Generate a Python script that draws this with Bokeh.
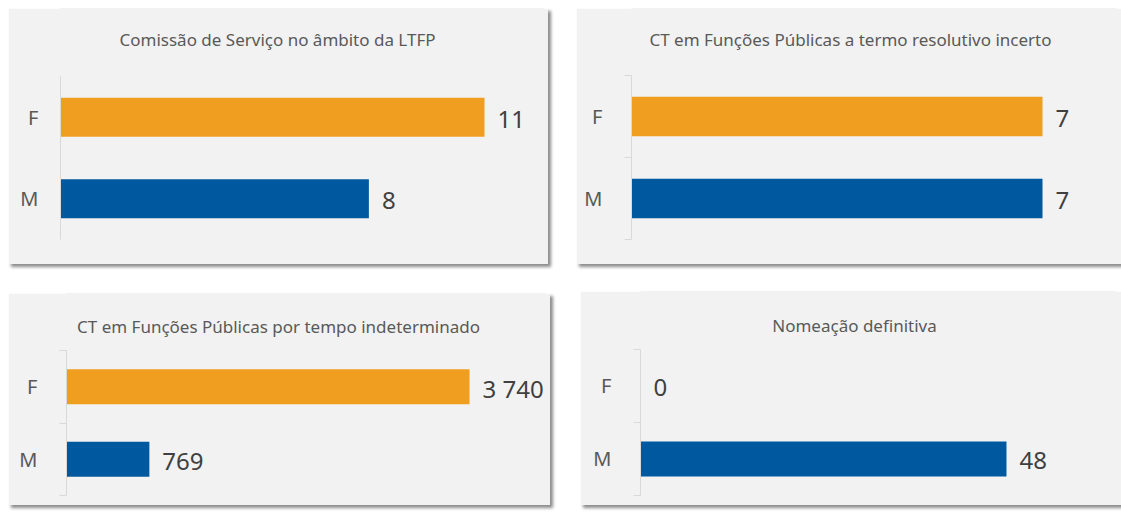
from bokeh.plotting import figure
from bokeh.models import Range1d, FixedTicker, ColumnDataSource
from bokeh.layouts import column, row
from bokeh.embed import file_html
from bokeh.resources import INLINE
from bokeh.core.properties import value

# ---- data ----
categories = ["F", "M"]
bar_colors = ["#F09E20", "#00589E"]

title_comissao = "Comissão de Serviço no âmbito da LTFP"
values_comissao = [11, 8]

title_incerto = "CT em Funções Públicas a termo resolutivo incerto"
values_incerto = [7, 7]

title_indeterminado = "CT em Funções Públicas por tempo indeterminado"
values_indeterminado = [3740, 769]

title_nomeacao = "Nomeação definitiva"
values_nomeacao = [0, 48]

FONT = "Noto Sans"
BG = "#F2F2F2"
AXIS = "#D9D9D9"
RB = 5  # right border


def fmt(v):
    return f"{v:,}".replace(",", " ")


def panel(title, vals, w, h, left, top, bottom, x_end, title_cx, title_base,
          bracket, margin):
    n = len(categories)
    ys = [n - i - 0.5 for i in range(n)]
    fw = w - left - RB
    fh_axis = h - top - bottom          # pixel height of the category area
    fh_total = h - bottom                # frame reaches the top of the panel
    y_end = n * fh_total / fh_axis
    src = ColumnDataSource(dict(
        y=ys, v=vals, color=bar_colors, label=[fmt(v) for v in vals]))
    p = figure(width=w, height=h, x_range=Range1d(0, x_end),
               y_range=Range1d(0, y_end), output_backend="svg",
               toolbar_location=None, x_axis_location=None,
               min_border_left=left, min_border_right=RB,
               min_border_top=0, min_border_bottom=bottom,
               background_fill_color=BG, border_fill_color=BG,
               outline_line_color=BG, outline_line_width=1, margin=margin,
               styles={"box-shadow": "3px 3px 3px rgba(0,0,0,0.45)"})
    p.grid.grid_line_color = None
    ax = p.yaxis[0]
    ax.bounds = (0, n)
    ax.ticker = FixedTicker(ticks=ys,
                            minor_ticks=[float(i) for i in range(n + 1)] if bracket else [])
    ax.major_label_overrides = {y: c for y, c in zip(ys, categories)}
    ax.major_tick_line_color = None
    ax.major_tick_out = 0
    ax.major_tick_in = 0
    ax.minor_tick_out = 7 if bracket else 0
    ax.minor_tick_in = 0
    ax.minor_tick_line_color = AXIS if bracket else None
    ax.axis_line_color = AXIS
    ax.major_label_standoff = 22
    ax.major_label_text_font = FONT
    ax.major_label_text_font_size = "20px"
    ax.major_label_text_color = "#595959"

    p.hbar(y="y", left=0, right="v", height=0.48, fill_color="color",
           line_color=None, source=src)
    p.text(x="v", y="y", text="label", source=src, x_offset=13, y_offset=2,
           text_baseline="middle", text_align="left",
           text_font=value(FONT), text_font_size="24px", text_color="#404040")

    # chart title, centred on the panel, in the upper part of the frame
    tx = x_end * (title_cx - left) / fw
    ty = n * (fh_total - title_base) / fh_axis
    p.text(x=[tx], y=[ty], text=[title], text_align="center",
           text_baseline="alphabetic", text_font=value(FONT),
           text_font_size="17px", text_color="#595959")
    return p


p1 = panel(title_comissao, values_comissao, 540, 256, 52, 68, 25, 12.53,
           269, 31, False, (0, 0, 0, 0))
p2 = panel(title_incerto, values_incerto, 545, 256, 55, 67, 25, 8.26,
           274, 31, True, (0, 0, 0, 28))
p3 = panel(title_indeterminado, values_indeterminado, 542, 212, 58, 57, 10,
           4445, 270, 33, True, (29, 0, 0, 0))
p4 = panel(title_nomeacao, values_nomeacao, 541, 214, 60, 58, 9, 62.43,
           274, 34, True, (27, 0, 0, 30))

layout = column(row(p1, p2), row(p3, p4), margin=(8, 0, 0, 8))
open("out.html", "w").write(file_html(layout, INLINE))
